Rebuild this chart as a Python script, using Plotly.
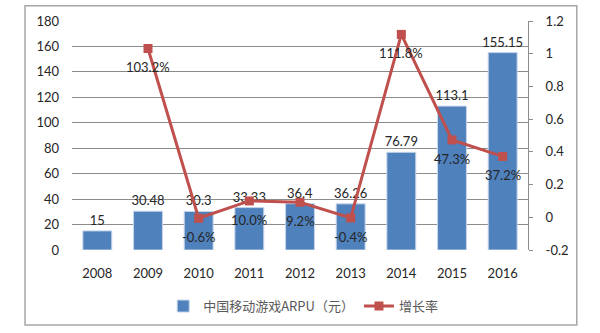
import plotly.graph_objects as go

years = ["2008", "2009", "2010", "2011", "2012", "2013", "2014", "2015", "2016"]
arpu = [15, 30.48, 30.3, 33.33, 36.4, 36.26, 76.79, 113.1, 155.15]
arpu_labels = ["15", "30.48", "30.3", "33.33", "36.4", "36.26", "76.79", "113.1", "155.15"]
growth_years = ["2009", "2010", "2011", "2012", "2013", "2014", "2015", "2016"]
growth = [1.032, -0.006, 0.100, 0.092, -0.004, 1.118, 0.473, 0.372]
growth_labels = ["103.2%", "-0.6%", "10.0%", "9.2%", "-0.4%", "111.8%", "47.3%", "37.2%"]
left_ticks = [0, 20, 40, 60, 80, 100, 120, 140, 160, 180]
right_ticks = [-0.2, 0, 0.2, 0.4, 0.6, 0.8, 1.0, 1.2]
right_ticktext = ["-0.2", "0", "0.2", "0.4", "0.6", "0.8", "1", "1.2"]

FONT = "Lato, 'Noto Sans CJK SC', sans-serif"
TXT = "#262626"

fig = go.Figure()
fig.add_trace(go.Bar(
    x=years, y=arpu, name="中国移动游戏ARPU（元）",
    marker=dict(color="#4F81BD", line=dict(color="#C5D5EA", width=1)),
    text=arpu_labels, textposition="outside", cliponaxis=False,
    constraintext="none",
    textfont=dict(family=FONT, size=13, color=TXT),
    yaxis="y",
))
fig.add_trace(go.Scatter(
    x=growth_years, y=growth, name="增长率", yaxis="y2",
    mode="lines+markers",
    line=dict(color="#C0504D", width=3),
    marker=dict(symbol="square", size=9, color="#C0504D"),
    cliponaxis=False,
))

# category axis: annotations need the category index
annotations = [
    dict(x=years.index(gx), y=gy, xref="x", yref="y2", text=gl, showarrow=False,
         yshift=-19, font=dict(family=FONT, size=13, color=TXT))
    for gx, gy, gl in zip(growth_years, growth, growth_labels)
]

fig.update_layout(
    width=600, height=333,
    margin=dict(l=72, r=72, t=21, b=81, pad=0),
    paper_bgcolor="white", plot_bgcolor="white",
    font=dict(family=FONT, size=13, color=TXT),
    bargap=0.43,
    showlegend=True,
    legend=dict(orientation="h", x=0.507, xanchor="center", y=-0.245, yanchor="middle",
                font=dict(family="'Noto Sans CJK SC', Lato, sans-serif", size=13, color="#595959"),
                itemwidth=30, tracegroupgap=0, traceorder="normal"),
    xaxis=dict(type="category", categoryorder="array", categoryarray=years,
               range=[-0.5, len(years) - 0.5],
               showgrid=False, showline=False,
               ticks="", ticklabelstandoff=14, tickfont=dict(size=13, color=TXT)),
    yaxis=dict(range=[0, 180], tickvals=left_ticks, showgrid=True, gridcolor="#8C8C8C",
               gridwidth=1, zeroline=False, showline=False, ticks="",
               ticklabelstandoff=12, tickfont=dict(size=13, color=TXT)),
    yaxis2=dict(range=[-0.2, 1.2], tickvals=right_ticks, ticktext=right_ticktext,
                overlaying="y", side="right", showgrid=False, zeroline=False,
                showline=True, linecolor="#8C8C8C", linewidth=1,
                ticks="outside", ticklen=4, tickcolor="#8C8C8C",
                ticklabelstandoff=10, tickfont=dict(size=13, color=TXT)),
    annotations=annotations,
    shapes=[dict(type="rect", xref="paper", yref="paper",
                 x0=-0.103, x1=1.107, y0=-0.327, y1=1.067,
                 line=dict(color="#A6A6A6", width=1.5), layer="below")],
)

fig.write_html("out.html")
